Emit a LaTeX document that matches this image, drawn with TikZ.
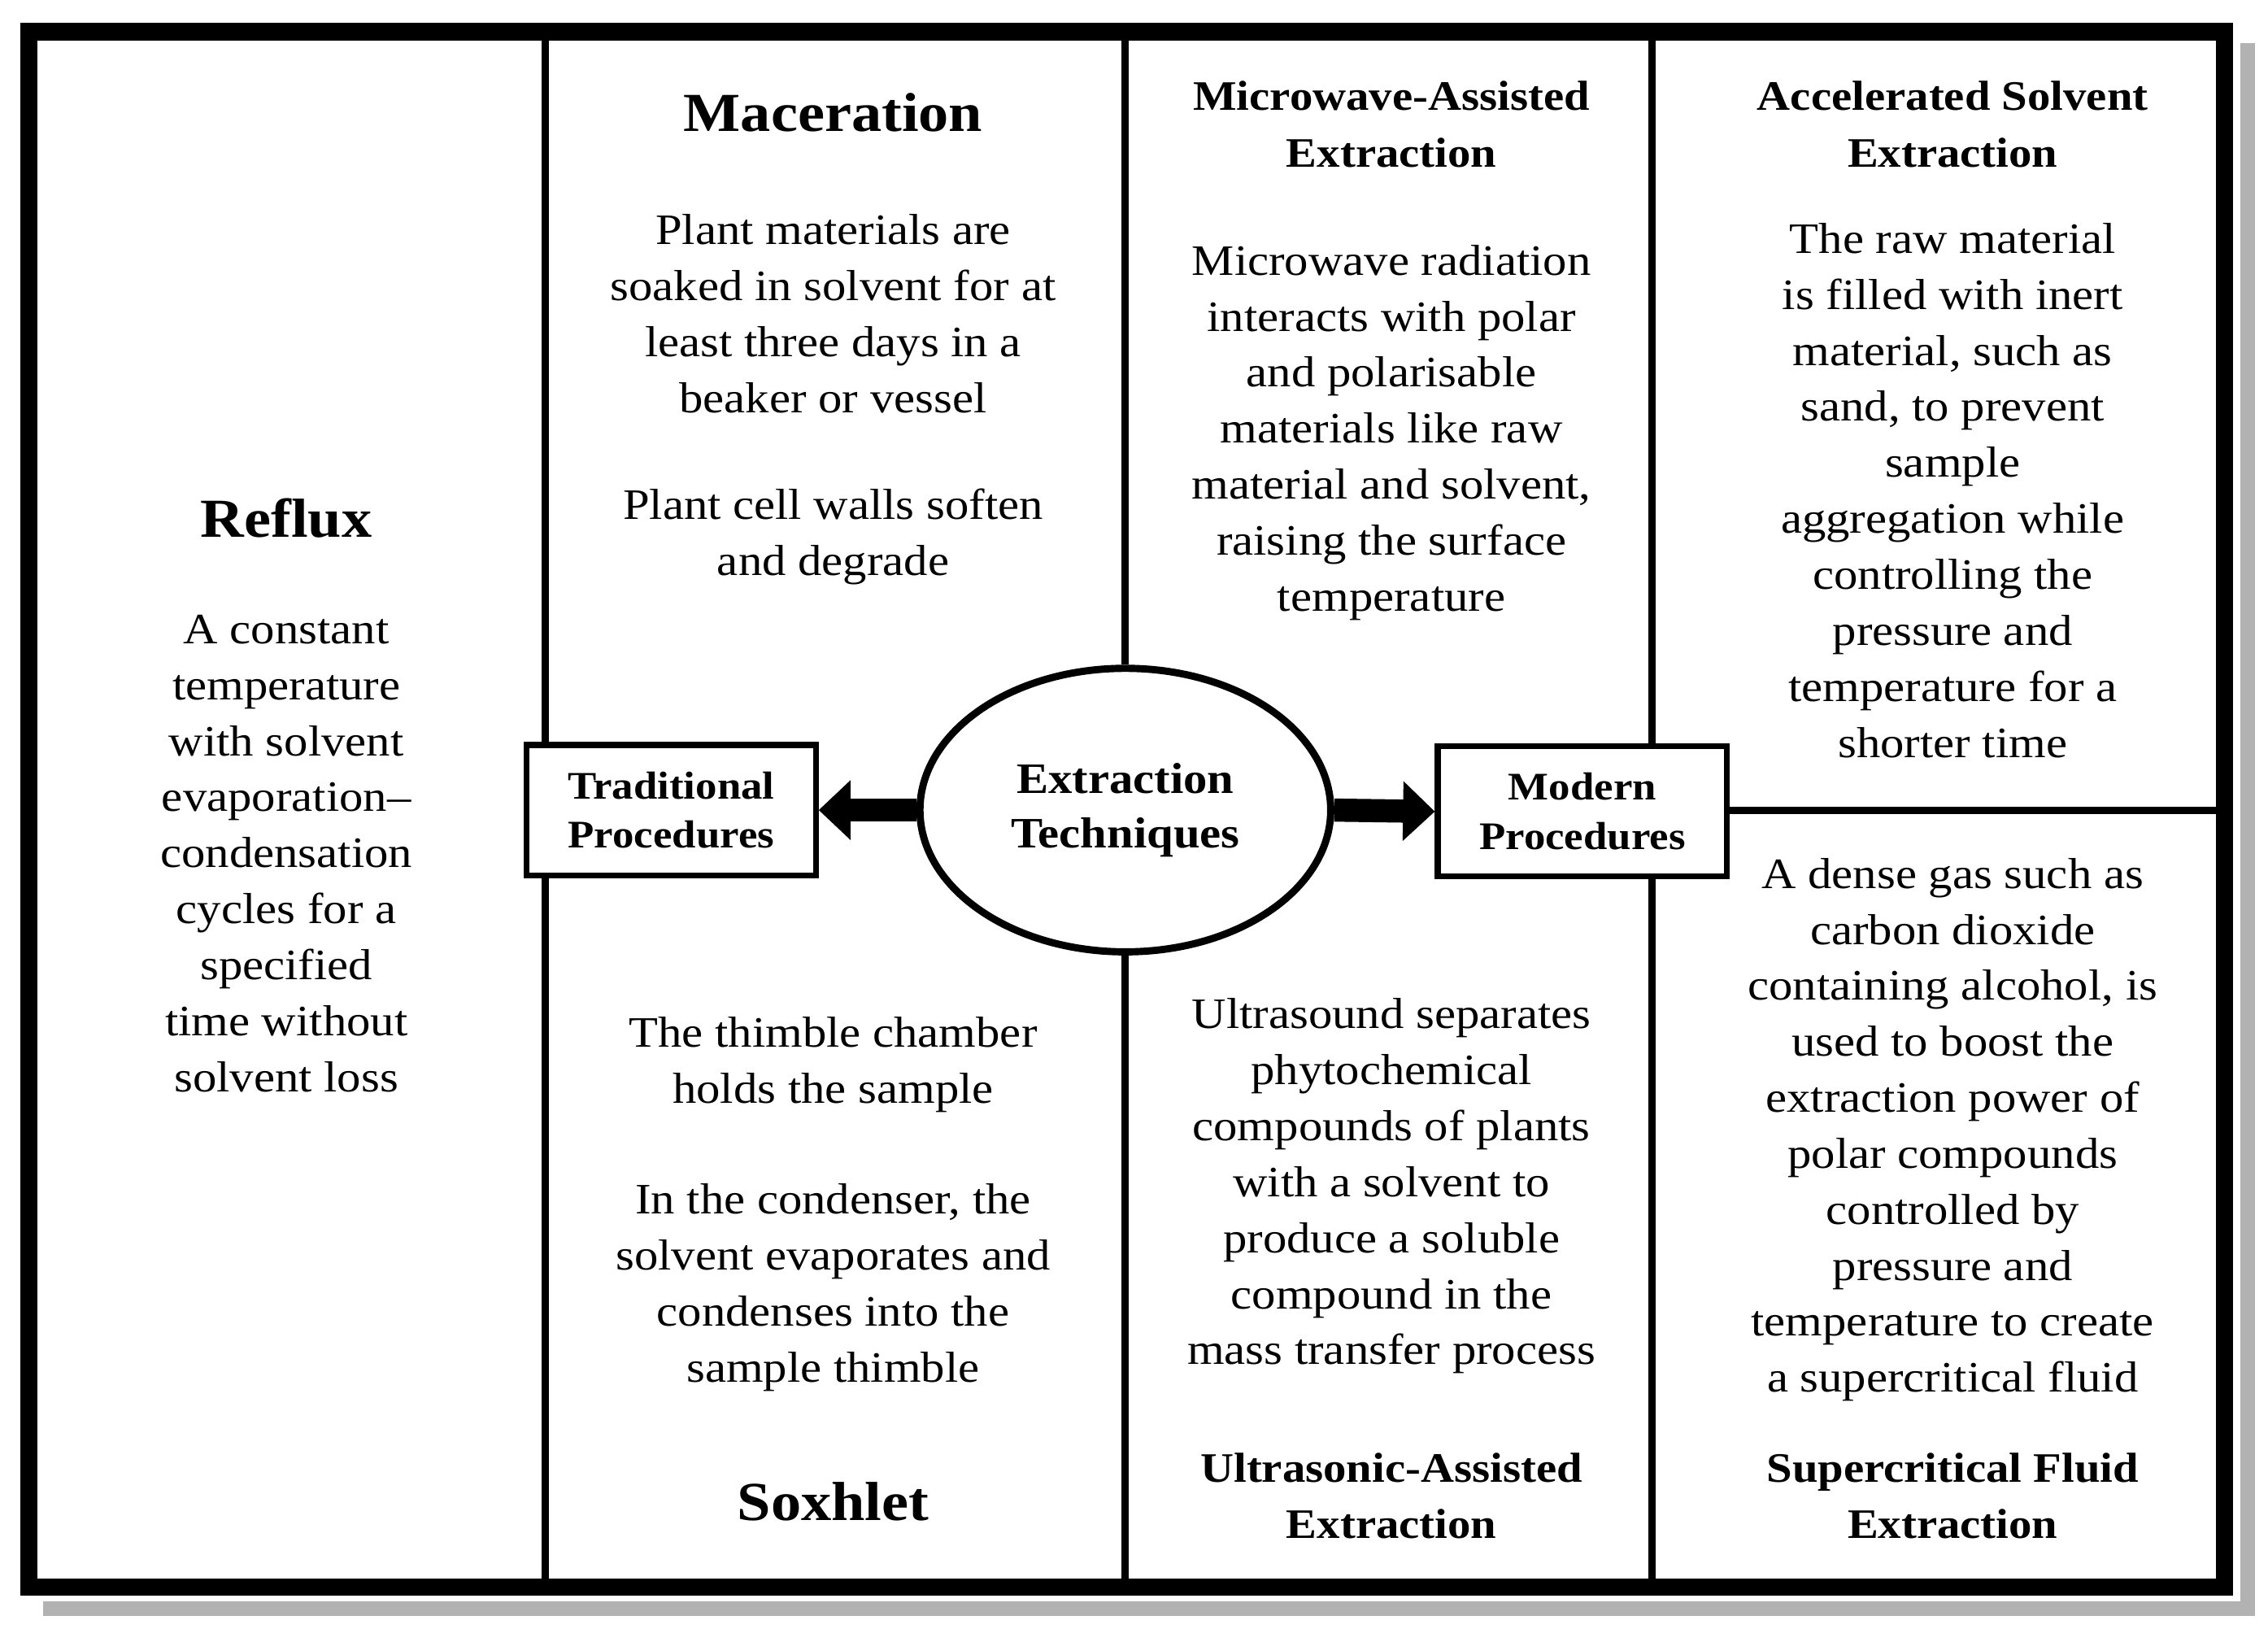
\documentclass[tikz,border=0pt]{standalone}
\usepackage{fontspec}
\setmainfont{Liberation Serif}[FakeStretch=1.1]
\usetikzlibrary{shapes.geometric,arrows.meta}
\begin{document}
\begin{tikzpicture}[x=1pt,y=-1pt,
 body/.style={align=center,font=\fontsize{30}{38.7}\selectfont,inner sep=0},
 ttl/.style={align=center,font=\bfseries\fontsize{29}{39}\selectfont,inner sep=0},
 big/.style={align=center,font=\bfseries\fontsize{38}{40}\selectfont,inner sep=0},
 box/.style={draw,line width=4pt,minimum width=200pt,minimum height=90pt,align=center,font=\bfseries\fontsize{27}{34}\selectfont,fill=white},
 ln/.style={line width=5pt},
 arr/.style={line width=16pt,-{Triangle[length=22pt,width=40pt]}}]
\useasboundingbox (0,0) rectangle (1568,1135);
\fill[white] (0,0) rectangle (1568,1135);
\draw[gray!60,line width=10pt] (30,1112) -- (1554,1112) -- (1554,30);
\draw[line width=12pt] (20,22) rectangle (1538,1097);
% grid lines
\coordinate (t1) at (377,26); \coordinate (b1) at (377,1093);
\coordinate (t2) at (778,26); \coordinate (b2) at (778,1093);
\coordinate (t3) at (1142,26); \coordinate (b3) at (1142,1093);
\coordinate (hr) at (1534,560);
\node[box] (trad) at (464,560) {Traditional\\Procedures};
\node[box] (mod) at (1094,561) {Modern\\Procedures};
\node[draw,ellipse,line width=5pt,minimum width=284pt,minimum height=196pt,fill=white,align=center,font=\bfseries\fontsize{30}{38}\selectfont] (ext) at (778,560) {Extraction\\Techniques};
\draw[ln] (t1) -- (trad.north -| t1);
\draw[ln] (trad.south -| b1) -- (b1);
\draw[ln] (t2) -- (ext.north);
\draw[ln] (ext.south) -- (b2);
\draw[ln] (t3) -- (mod.north -| t3);
\draw[ln] (mod.south -| b3) -- (b3);
\draw[ln] (mod.east |- hr) -- (hr);
\draw[arr] (ext.west) -- (trad.east);
\draw[arr] (ext.east) -- (mod.west);
% Reflux
\node[big] (refT) at (198,358) {Reflux};
\node[body] (refB) at (198,590) {A constant\\temperature\\with solvent\\evaporation–\\condensation\\cycles for a\\specified\\time without\\solvent loss};
% Maceration
\node[big] (macT) at (576,78) {Maceration};
\node[body] (macB1) at (576,217) {Plant materials are\\soaked in solvent for at\\least three days in a\\beaker or vessel};
\node[body] (macB2) at (576,371) {Plant cell walls soften\\and degrade};
% Soxhlet
\node[body] (soxB1) at (576,736) {The thimble chamber\\holds the sample};
\node[body] (soxB2) at (576,890) {In the condenser, the\\solvent evaporates and\\condenses into the\\sample thimble};
\node[big] (soxT) at (576,1038) {Soxhlet};
% Microwave
\node[ttl] (micT) at (962,86) {Microwave-Assisted\\Extraction};
\node[body] (micB) at (962,299) {Microwave radiation\\interacts with polar\\and polarisable\\materials like raw\\material and solvent,\\raising the surface\\temperature};
% Ultrasonic
\node[body] (ultB) at (962,820) {Ultrasound separates\\phytochemical\\compounds of plants\\with a solvent to\\produce a soluble\\compound in the\\mass transfer process};
\node[ttl] (ultT) at (962,1034) {Ultrasonic-Assisted\\Extraction};
% ASE
\node[ttl] (aseT) at (1350,86) {Accelerated Solvent\\Extraction};
\node[body] (aseB) at (1350,339) {The raw material\\is filled with inert\\material, such as\\sand, to prevent\\sample\\aggregation while\\controlling the\\pressure and\\temperature for a\\shorter time};
% SFE
\node[body] (sfeB) at (1350,781) {A dense gas such as\\carbon dioxide\\containing alcohol, is\\used to boost the\\extraction power of\\polar compounds\\controlled by\\pressure and\\temperature to create\\a supercritical fluid};
\node[ttl] (sfeT) at (1350,1034) {Supercritical Fluid\\Extraction};
\end{tikzpicture}
\end{document}
